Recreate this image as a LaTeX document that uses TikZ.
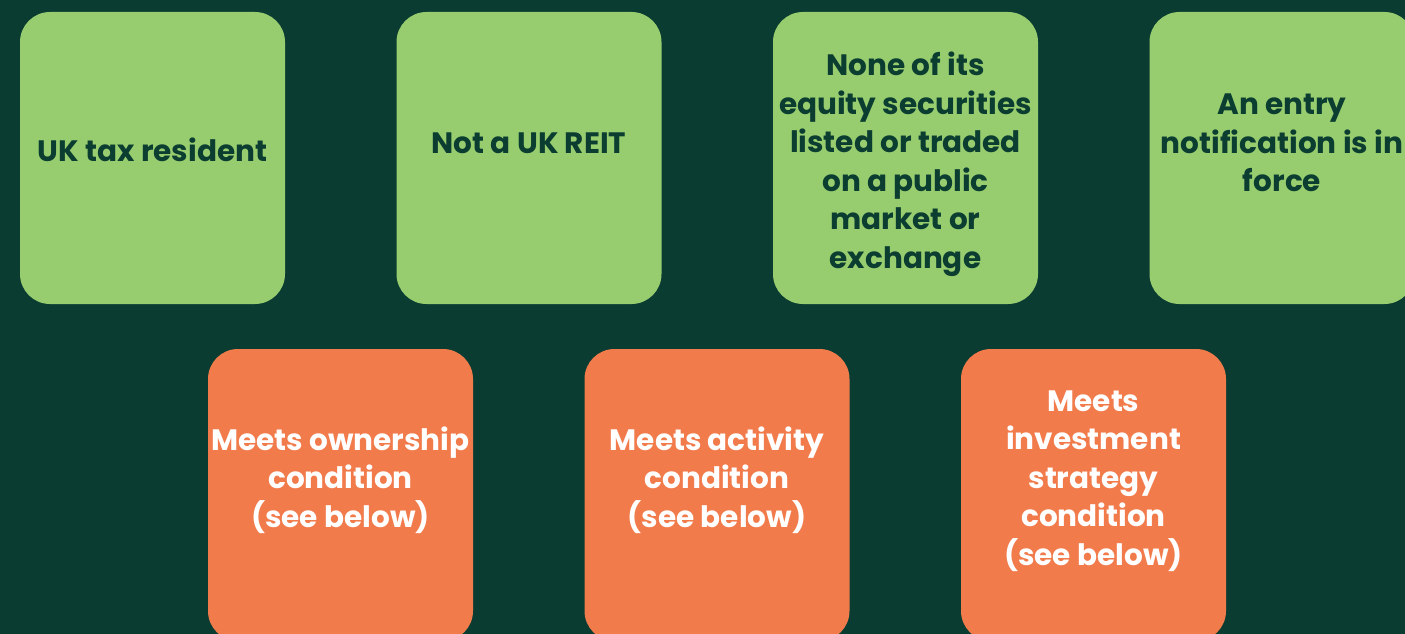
\documentclass[tikz,border=0pt]{standalone}
\usepackage{fontspec}
\setmainfont{Poppins}
\definecolor{bg}{HTML}{0A3C31}
\definecolor{lgreen}{HTML}{97CD6F}
\definecolor{orng}{HTML}{F27B4B}
\definecolor{dtext}{HTML}{0B3D30}
\tikzset{
  greenbox/.style={fill=lgreen, draw=none, rounded corners=30pt, minimum width=265pt, minimum height=292pt, inner sep=0pt},
  orangebox/.style={fill=orng, draw=none, rounded corners=30pt, minimum width=265pt, minimum height=292pt, inner sep=0pt},
  gtext/.style={text=dtext, font=\bfseries\fontsize{29.5}{38.5}\selectfont, align=center, inner sep=0pt},
  otext/.style={text=white, font=\bfseries\fontsize{29.5}{38.5}\selectfont, align=center, inner sep=0pt}
}
\begin{document}
\begin{tikzpicture}[x=1pt,y=-1pt]
\useasboundingbox (0,0) rectangle (1405,634);
\fill[bg] (0,0) rectangle (1405,634);
\clip (0,0) rectangle (1405,634);
% top row
\node[greenbox] (g1) at (152.5,158) {};
\node[greenbox] (g2) at (529,158) {};
\node[greenbox] (g3) at (905.5,158) {};
\node[greenbox] (g4) at (1282,158) {};
\node[gtext] (t1) at (152.5,150) {UK tax resident};
\node[gtext] (t2) at (529,143) {Not a UK REIT};
\node[gtext] (t3) at (905.5,164) {None of its\\equity securities\\listed or traded\\on a public\\market or\\exchange};
\node[gtext] (t4) at (1282,143) {An entry\\notification is in\\force};
% bottom row
\node[orangebox] (o1) at (340.5,495) {};
\node[orangebox] (o2) at (717,495) {};
\node[orangebox] (o3) at (1093.5,495) {};
\node[otext] (u1) at (340.5,480) {Meets ownership\\condition\\(see below)};
\node[otext] (u2) at (717,480) {Meets activity\\condition\\(see below)};
\node[otext] (u3) at (1093.5,481) {Meets\\investment\\strategy\\condition\\(see below)};
\end{tikzpicture}
\end{document}
